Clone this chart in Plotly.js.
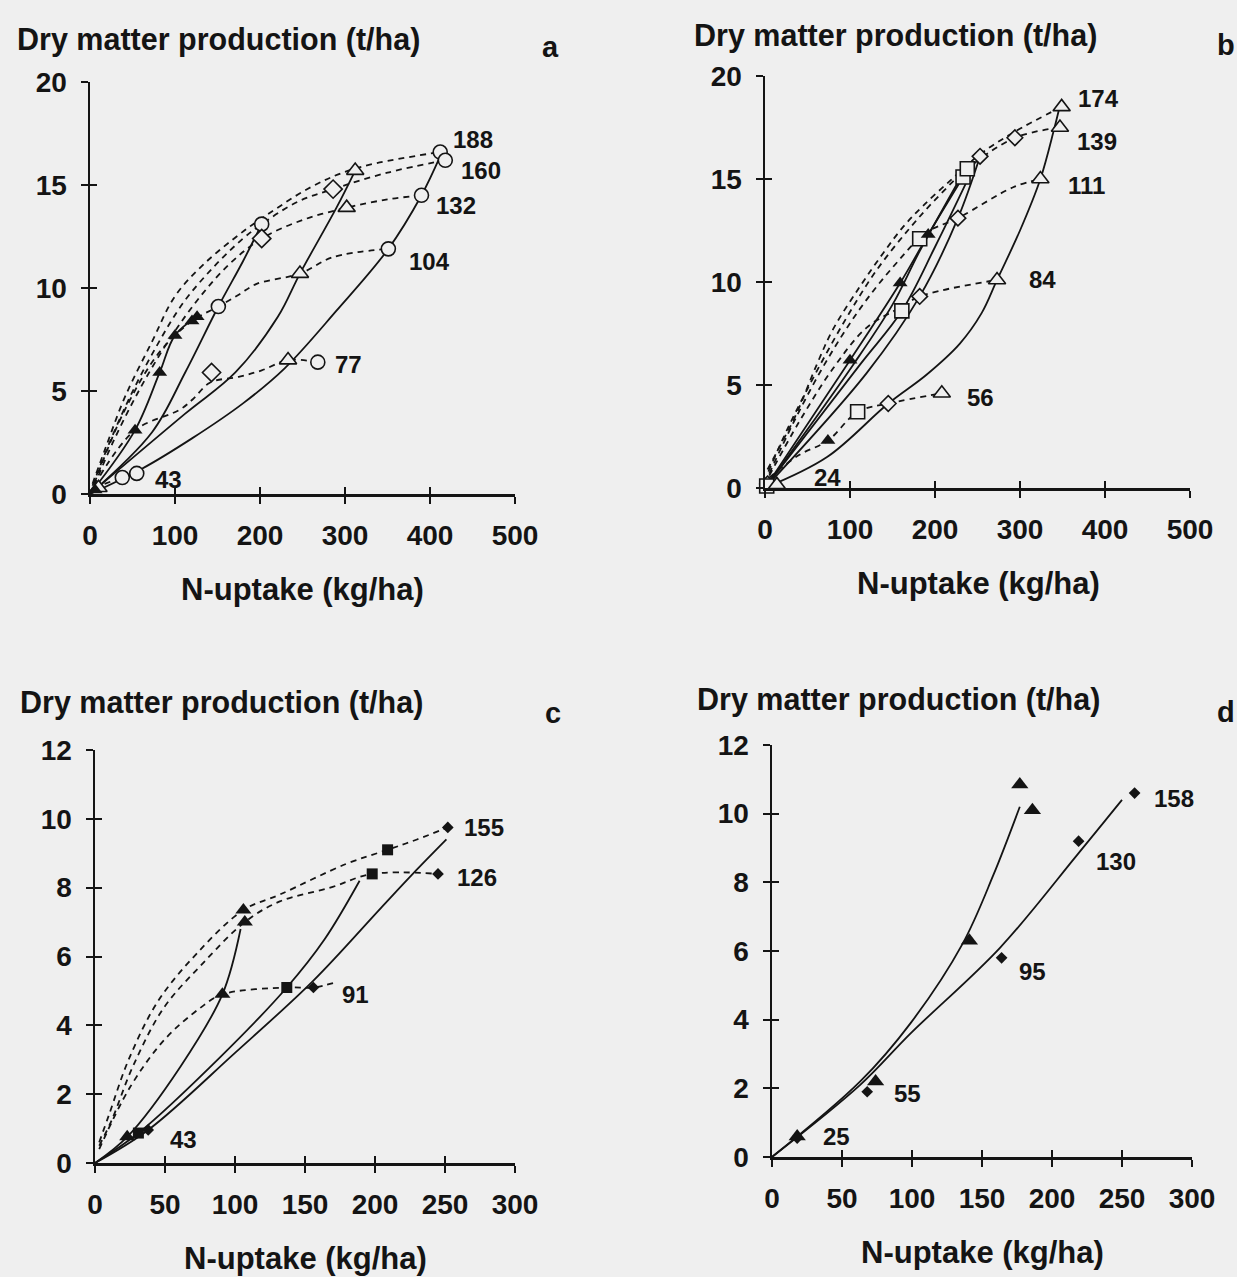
<!DOCTYPE html>
<html><head><meta charset="utf-8">
<script src="https://cdn.plot.ly/plotly-3.0.1.min.js"></script>
<style>html,body{margin:0;padding:0;background:#efefef;} #chart{width:1237px;height:1277px;}</style>
</head><body><div id="chart"></div>
<script>
// ---------- tick values ----------
const abTicksX = [0, 100, 200, 300, 400, 500];
const abTicksY = [0, 5, 10, 15, 20];
const cdTicksX = [0, 50, 100, 150, 200, 250, 300];
const cdTicksY = [0, 2, 4, 6, 8, 10, 12];

// ---------- panel a ----------
const aCircX = [38, 55, 151, 202, 268, 351, 390, 412, 418];
const aCircY = [0.8, 1.0, 9.1, 13.1, 6.4, 11.9, 14.5, 16.6, 16.2];
const aTriX = [10, 233, 247, 302, 312];
const aTriY = [0.3, 6.5, 10.7, 13.9, 15.7];
const aDiaX = [143, 202, 286];
const aDiaY = [5.9, 12.4, 14.8];
const aFTriX = [6, 53, 82, 100, 120, 126];
const aFTriY = [0.2, 3.1, 5.9, 7.7, 8.4, 8.6];
const aS1X = [0, 53, 82, 100, 126];
const aS1Y = [0, 3.1, 5.9, 7.7, 8.6];
const aS2X = [0, 73, 112, 151, 180, 202];
const aS2Y = [0, 3.0, 5.9, 9.1, 11.3, 13.1];
const aS3X = [0, 112, 171, 221, 247, 290, 312];
const aS3Y = [0, 3.9, 5.9, 8.6, 10.7, 13.9, 15.7];
const aS4X = [0, 60, 120, 180, 229, 290, 351, 390, 412];
const aS4Y = [0, 1.2, 2.7, 4.4, 6.1, 8.9, 11.9, 14.5, 16.4];
const aD43X = [5, 38, 55];
const aD43Y = [0.3, 0.8, 1.0];
const aD77X = [12, 53, 106, 121, 141, 176, 202, 233, 268];
const aD77Y = [0.9, 3.1, 4.1, 4.6, 5.4, 5.7, 6.0, 6.5, 6.4];
const aD104X = [5, 40, 82, 120, 151, 176, 196, 247, 286, 351];
const aD104Y = [0.5, 4.0, 6.9, 8.4, 9.1, 9.7, 10.2, 10.7, 11.5, 11.9];
const aD132X = [5, 28, 60, 95, 130, 165, 202, 250, 302, 350, 390];
const aD132Y = [0.4, 2.6, 5.2, 7.6, 9.6, 11.2, 12.4, 13.3, 13.9, 14.3, 14.5];
const aD160X = [3, 22, 48, 80, 110, 145, 180, 202, 245, 286, 350, 418];
const aD160Y = [0.4, 2.4, 4.8, 7.3, 9.3, 11.0, 12.4, 13.1, 14.2, 14.8, 15.6, 16.2];
const aD188X = [3, 18, 41, 73, 100, 135, 182, 210, 260, 312, 412];
const aD188Y = [0.5, 2.2, 4.7, 7.4, 9.6, 11.2, 12.8, 13.6, 14.9, 15.8, 16.6];
const aLabText = ['188', '160', '132', '104', '77', '43'];
const aLabX = [451, 460, 430, 399, 304, 92];
const aLabY = [17.2, 15.7, 14.0, 11.3, 6.3, 0.7];

// ---------- panel b ----------
const bDiaX = [3, 145, 182, 227, 253, 294];
const bDiaY = [0.2, 4.1, 9.3, 13.1, 16.1, 17.0];
const bSqX = [2, 109, 161, 182, 233, 238];
const bSqY = [0.1, 3.7, 8.6, 12.1, 15.1, 15.5];
const bTriX = [14, 208, 273, 324, 347, 349];
const bTriY = [0.15, 4.6, 10.1, 15.0, 17.5, 18.5];
const bFTriX = [74, 100, 159, 192];
const bFTriY = [2.3, 6.2, 9.95, 12.3];
const bS1X = [0, 73, 145, 190, 229, 255, 273, 300, 324, 340, 346];
const bS1Y = [0, 1.5, 4.1, 5.5, 7.0, 8.5, 10.1, 12.5, 15.0, 17.4, 18.4];
const bS2X = [0, 100, 159, 192, 233];
const bS2Y = [0, 6.2, 9.95, 12.3, 15.1];
const bS3X = [0, 104, 150, 182, 236];
const bS3Y = [0, 6.0, 8.9, 11.5, 15.5];
const bS4X = [0, 112, 161, 200, 240];
const bS4Y = [0, 6.0, 8.6, 11.7, 15.1];
const bS5X = [0, 120, 182, 227, 253];
const bS5Y = [0, 5.6, 9.3, 13.1, 16.1];
const bD56X = [5, 40, 74, 109, 145, 208];
const bD56Y = [0.5, 1.6, 2.3, 3.7, 4.1, 4.6];
const bD84X = [5, 40, 80, 120, 161, 182, 273];
const bD84Y = [0.6, 3.2, 5.8, 7.8, 8.8, 9.3, 10.1];
const bD111X = [5, 35, 70, 110, 150, 190, 227, 292, 324];
const bD111Y = [0.7, 3.3, 6.0, 8.6, 10.7, 12.4, 13.1, 14.6, 15.0];
const bD139X = [4, 28, 60, 95, 130, 170, 205, 238, 294, 347];
const bD139Y = [0.8, 3.0, 5.6, 8.2, 10.5, 12.6, 14.2, 15.5, 17.0, 17.5];
const bD174X = [3, 21, 37, 61, 80, 112, 139, 163, 186, 220, 253, 294, 349];
const bD174Y = [0.9, 2.3, 3.6, 6.0, 7.7, 9.8, 11.4, 12.7, 13.7, 15.0, 16.2, 17.3, 18.5];
const bLabText = ['174', '139', '111', '84', '56', '24'];
const bLabX = [392, 390, 378, 326, 253, 74];
const bLabY = [18.9, 16.8, 14.7, 10.1, 4.4, 0.5];

// ---------- panel c ----------
const cFTriX = [23, 91, 106, 107];
const cFTriY = [0.76, 4.9, 7.35, 7.0];
const cFSqX = [31, 137, 198, 209];
const cFSqY = [0.87, 5.1, 8.4, 9.1];
const cFDiaX = [38, 156, 245, 252];
const cFDiaY = [0.96, 5.1, 8.4, 9.75];
const cS1X = [0, 23, 61, 91, 104];
const cS1Y = [0, 0.76, 2.8, 4.9, 6.8];
const cS2X = [0, 31, 90, 137, 164, 189];
const cS2Y = [0, 0.87, 3.1, 5.1, 6.5, 8.2];
const cS3X = [0, 38, 100, 156, 204, 227, 251];
const cS3Y = [0, 0.96, 3.2, 5.3, 7.4, 8.4, 9.4];
const cD91X = [3, 25, 50, 75, 91, 137, 156, 172];
const cD91Y = [0.4, 2.2, 3.6, 4.5, 4.9, 5.1, 5.1, 5.25];
const cD126X = [3, 12, 27, 49, 77, 107, 132, 168, 198, 245];
const cD126Y = [0.5, 1.25, 2.8, 4.5, 5.8, 7.0, 7.6, 8.0, 8.4, 8.4];
const cD155X = [3, 10, 24, 45, 73, 106, 132, 180, 209, 230, 252];
const cD155Y = [0.6, 1.4, 3.0, 4.7, 6.1, 7.35, 7.8, 8.7, 9.1, 9.4, 9.75];
const cLabText = ['155', '126', '91', '43'];
const cLabX = [278, 273, 186, 63];
const cLabY = [9.75, 8.3, 4.9, 0.67];

// ---------- panel d ----------
const dFTriX = [18, 74, 141, 177, 186];
const dFTriY = [0.6, 2.2, 6.3, 10.85, 10.1];
const dFDiaX = [18, 68, 164, 219, 259];
const dFDiaY = [0.55, 1.9, 5.8, 9.2, 10.6];
const dS1X = [0, 63, 99, 136, 158, 177];
const dS1Y = [0, 2.2, 3.9, 6.2, 8.2, 10.2];
const dS2X = [0, 63, 99, 163, 218, 250];
const dS2Y = [0, 2.1, 3.6, 6.1, 8.8, 10.4];
const dLabText = ['158', '130', '95', '55', '25'];
const dLabX = [287, 246, 186, 97, 46];
const dLabY = [10.45, 8.6, 5.4, 1.85, 0.6];

// ---------- styling / builders ----------
const BG = '#efefef';
const INK = '#141414';
const FONT = 'Liberation Sans, Arial, Helvetica, sans-serif';

function solid(xa, ya, xs, ys) {
  return {type: 'scatter', mode: 'lines', x: xs, y: ys, xaxis: xa, yaxis: ya,
    line: {color: INK, width: 1.8, shape: 'spline', smoothing: 1}, hoverinfo: 'skip'};
}
function dashed(xa, ya, xs, ys) {
  return {type: 'scatter', mode: 'lines', x: xs, y: ys, xaxis: xa, yaxis: ya,
    line: {color: INK, width: 1.8, shape: 'spline', smoothing: 1, dash: '6px,5px'}, hoverinfo: 'skip'};
}
function marks(xa, ya, xs, ys, symbol, size, filled) {
  return {type: 'scatter', mode: 'markers', x: xs, y: ys, xaxis: xa, yaxis: ya, cliponaxis: false,
    marker: {symbol: symbol, size: size, color: filled ? INK : BG, line: {color: INK, width: filled ? 0 : 1.6}},
    hoverinfo: 'skip'};
}

const traces = [
  // a
  solid('x', 'y', aS1X, aS1Y), solid('x', 'y', aS2X, aS2Y), solid('x', 'y', aS3X, aS3Y), solid('x', 'y', aS4X, aS4Y),
  dashed('x', 'y', aD43X, aD43Y), dashed('x', 'y', aD77X, aD77Y), dashed('x', 'y', aD104X, aD104Y),
  dashed('x', 'y', aD132X, aD132Y), dashed('x', 'y', aD160X, aD160Y), dashed('x', 'y', aD188X, aD188Y),
  marks('x', 'y', aCircX, aCircY, 'circle', 14, false),
  marks('x', 'y', aTriX, aTriY, 'triangle-up', 15, false),
  marks('x', 'y', aDiaX, aDiaY, 'diamond', 14, false),
  marks('x', 'y', aFTriX, aFTriY, 'triangle-up', 13, true),
  // b
  solid('x2', 'y2', bS1X, bS1Y), solid('x2', 'y2', bS2X, bS2Y), solid('x2', 'y2', bS3X, bS3Y),
  solid('x2', 'y2', bS4X, bS4Y), solid('x2', 'y2', bS5X, bS5Y),
  dashed('x2', 'y2', bD56X, bD56Y), dashed('x2', 'y2', bD84X, bD84Y), dashed('x2', 'y2', bD111X, bD111Y),
  dashed('x2', 'y2', bD139X, bD139Y), dashed('x2', 'y2', bD174X, bD174Y),
  marks('x2', 'y2', bDiaX, bDiaY, 'diamond', 12, false),
  marks('x2', 'y2', bSqX, bSqY, 'square', 14, false),
  marks('x2', 'y2', bTriX, bTriY, 'triangle-up', 15, false),
  marks('x2', 'y2', bFTriX, bFTriY, 'triangle-up', 13, true),
  // c
  solid('x3', 'y3', cS1X, cS1Y), solid('x3', 'y3', cS2X, cS2Y), solid('x3', 'y3', cS3X, cS3Y),
  dashed('x3', 'y3', cD91X, cD91Y), dashed('x3', 'y3', cD126X, cD126Y), dashed('x3', 'y3', cD155X, cD155Y),
  marks('x3', 'y3', cFTriX, cFTriY, 'triangle-up', 14, true),
  marks('x3', 'y3', cFSqX, cFSqY, 'square', 11, true),
  marks('x3', 'y3', cFDiaX, cFDiaY, 'diamond', 9, true),
  // d
  solid('x4', 'y4', dS1X, dS1Y), solid('x4', 'y4', dS2X, dS2Y),
  marks('x4', 'y4', dFTriX, dFTriY, 'triangle-up', 15, true),
  marks('x4', 'y4', dFDiaX, dFDiaY, 'diamond', 9, true)
];
// placeholder traces so that crossing-tick overlay axes are drawn
[['x5','y5'],['x6','y6'],['x7','y7'],['x8','y8']].forEach(function(p){
  traces.push({type:'scatter', mode:'markers', x:[null], y:[null], xaxis:p[0], yaxis:p[1], hoverinfo:'skip'});
});

const W = 1237, H = 1277;
function px(v) { return v / W; }
function py(v) { return 1 - v / H; }

function xAxis(dom, rng, ticks, anchor) {
  return {domain: dom, range: rng, anchor: anchor, tickmode: 'array', tickvals: ticks, ticktext: ticks.map(String),
    showline: true, linewidth: 2.5, linecolor: INK, ticks: 'outside', ticklen: 7, tickwidth: 2, tickcolor: INK,
    showgrid: false, zeroline: false, ticklabelstandoff: 8, fixedrange: true,
    tickfont: {family: FONT, size: 28, color: INK, weight: 'bold'}};
}
function yAxis(dom, rng, ticks, anchor) {
  return {domain: dom, range: rng, anchor: anchor, tickmode: 'array', tickvals: ticks, ticktext: ticks.map(String),
    showline: true, linewidth: 2.5, linecolor: INK, ticks: 'outside', ticklen: 7, tickwidth: 2, tickcolor: INK,
    showgrid: false, zeroline: false, ticklabelstandoff: 8, fixedrange: true,
    tickfont: {family: FONT, size: 28, color: INK, weight: 'bold'}};
}
function xOver(base, anchor, rng, ticks) {
  return {overlaying: base, anchor: anchor, range: rng, tickmode: 'array', tickvals: ticks, showticklabels: false,
    showline: false, ticks: 'inside', ticklen: 7, tickwidth: 2, tickcolor: INK, showgrid: false, zeroline: false, fixedrange: true};
}

const axA = {x: [px(90), px(515)], y: [py(494), py(82)]};
const axB = {x: [px(765), px(1190)], y: [py(488), py(76)]};
const axC = {x: [px(95), px(515)], y: [py(1163), py(750)]};
const axD = {x: [px(772), px(1192)], y: [py(1157), py(745)]};

const annotations = [];
function addLabels(xa, ya, texts, xs, ys) {
  texts.forEach(function(t, i) {
    annotations.push({xref: xa, yref: ya, x: xs[i], y: ys[i], text: t, showarrow: false,
      xanchor: 'center', yanchor: 'middle', font: {family: FONT, size: 24, color: INK, weight: 'bold'}});
  });
}
addLabels('x', 'y', aLabText, aLabX, aLabY);
addLabels('x2', 'y2', bLabText, bLabX, bLabY);
addLabels('x3', 'y3', cLabText, cLabX, cLabY);
addLabels('x4', 'y4', dLabText, dLabX, dLabY);

const panelTitles = [
  {x: 15, y: 40, letter: 'a', lx: 550, ly: 47, nx: 302, ny: 590},
  {x: 692, y: 35, letter: 'b', lx: 1226, ly: 45, nx: 978, ny: 583},
  {x: 18, y: 702, letter: 'c', lx: 553, ly: 713, nx: 305, ny: 1258},
  {x: 695, y: 699, letter: 'd', lx: 1226, ly: 712, nx: 982, ny: 1252}
];
panelTitles.forEach(function(p) {
  annotations.push({xref: 'paper', yref: 'paper', x: px(p.x), y: py(p.y), text: 'Dry matter production (t/ha)',
    showarrow: false, xanchor: 'left', yanchor: 'middle', font: {family: FONT, size: 30.5, color: INK, weight: 'bold'}});
  annotations.push({xref: 'paper', yref: 'paper', x: px(p.lx), y: py(p.ly), text: p.letter,
    showarrow: false, xanchor: 'center', yanchor: 'middle', font: {family: FONT, size: 29, color: INK, weight: 'bold'}});
  annotations.push({xref: 'paper', yref: 'paper', x: px(p.nx), y: py(p.ny), text: 'N-uptake (kg/ha)',
    showarrow: false, xanchor: 'center', yanchor: 'middle', font: {family: FONT, size: 31, color: INK, weight: 'bold'}});
});

const layout = {
  width: W, height: H, margin: {l: 0, r: 0, t: 0, b: 0, pad: 0},
  paper_bgcolor: BG, plot_bgcolor: 'rgba(0,0,0,0)', showlegend: false,
  font: {family: FONT, color: INK},
  xaxis: xAxis(axA.x, [0, 500], abTicksX, 'y'), yaxis: yAxis(axA.y, [0, 20], abTicksY, 'x'),
  xaxis2: xAxis(axB.x, [0, 500], abTicksX, 'y2'), yaxis2: yAxis(axB.y, [0, 20], abTicksY, 'x2'),
  xaxis3: xAxis(axC.x, [0, 300], cdTicksX, 'y3'), yaxis3: yAxis(axC.y, [0, 12], cdTicksY, 'x3'),
  xaxis4: xAxis(axD.x, [0, 300], cdTicksX, 'y4'), yaxis4: yAxis(axD.y, [0, 12], cdTicksY, 'x4'),
  xaxis5: xOver('x', 'y5', [0, 500], abTicksX), yaxis5: xOver('y', 'x5', [0, 20], abTicksY),
  xaxis6: xOver('x2', 'y6', [0, 500], abTicksX), yaxis6: xOver('y2', 'x6', [0, 20], abTicksY),
  xaxis7: xOver('x3', 'y7', [0, 300], cdTicksX), yaxis7: xOver('y3', 'x7', [0, 12], cdTicksY),
  xaxis8: xOver('x4', 'y8', [0, 300], cdTicksX), yaxis8: xOver('y4', 'x8', [0, 12], cdTicksY),
  annotations: annotations
};

Plotly.newPlot('chart', traces, layout, {staticPlot: true, displayModeBar: false});
</script></body></html>
